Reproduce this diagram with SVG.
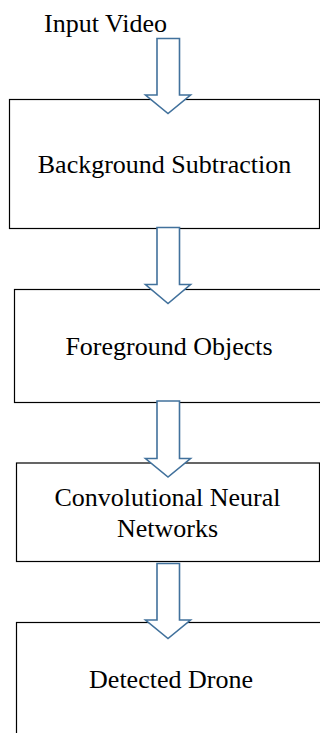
<svg xmlns="http://www.w3.org/2000/svg" width="320" height="733" viewBox="0 0 320 733">
<style>
.box{fill:#fff;stroke:#000;stroke-width:1.2}
.arr{fill:#fff;stroke:#41719C;stroke-width:1.6;stroke-linejoin:miter}
.t{font-family:'Liberation Serif','Times New Roman','DejaVu Serif',serif;font-size:26px;fill:#000;text-anchor:middle}
</style>
<rect width="320" height="733" fill="#fff"/>
<g id="input"><text class="t" font-family="Liberation Serif" x="105.5" y="32">Input Video</text></g>
<g id="n1"><rect class="box" x="9.5" y="99.5" width="310" height="129"/><text class="t" font-family="Liberation Serif" x="164.5" y="173">Background Subtraction</text></g>
<g id="n2"><rect class="box" x="14.5" y="289.5" width="320" height="113"/><text class="t" font-family="Liberation Serif" x="169" y="355">Foreground Objects</text></g>
<g id="n3"><rect class="box" x="16.5" y="463" width="303" height="98.5"/><text class="t" font-family="Liberation Serif" x="167.5" y="506">Convolutional Neural</text><text class="t" font-family="Liberation Serif" x="167.5" y="536.5">Networks</text></g>
<g id="n4"><rect class="box" x="16.5" y="622.5" width="320" height="120"/><text class="t" font-family="Liberation Serif" x="171" y="687.5">Detected Drone</text></g>
<g id="connectors">
<path class="arr" d="M157,38.5 V95 H145.5 L168,113.5 L190.5,95 H179.5 V38.5 Z"/>
<path class="arr" d="M157,227.5 V284.5 H145.5 L168,303.5 L190.5,284.5 H179.5 V227.5 Z"/>
<path class="arr" d="M157,401 V458.5 H145.5 L168,477 L190.5,458.5 H179.5 V401 Z"/>
<path class="arr" d="M157,563.5 V620 H145.5 L168,638.5 L190.5,620 H179.5 V563.5 Z"/>
</g>
</svg>
